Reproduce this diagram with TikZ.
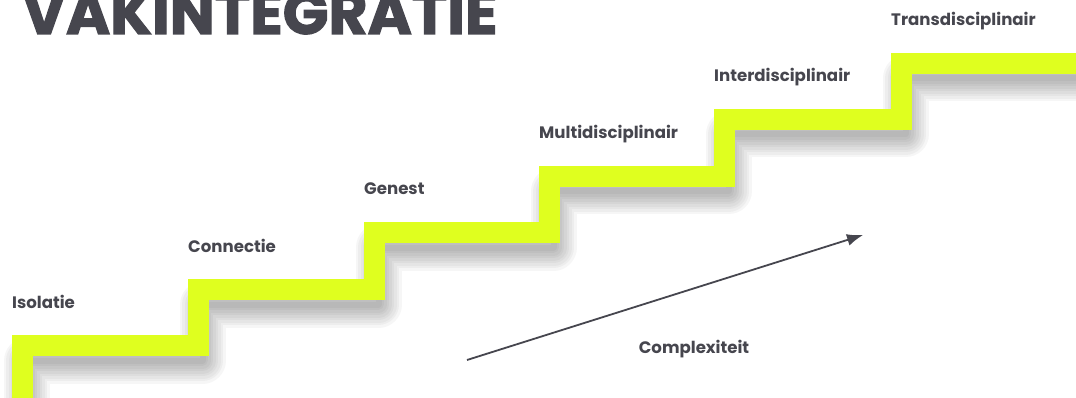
\documentclass[tikz,border=0pt]{standalone}
\usepackage{fontspec}
\setmainfont{Poppins}
\newfontfamily\titlefont{Poppins}[BoldFeatures={FakeBold=2}]
\usepackage{tikz}
\usetikzlibrary{positioning,arrows.meta}
\definecolor{lime}{HTML}{DFFF1F}
\definecolor{ink}{HTML}{46464E}

\begin{document}
\begin{tikzpicture}[x=1pt,y=-1pt,
            stairs/.style={draw=lime, line width=21pt, line join=miter},
            stairshadow/.style={draw=black, opacity=0.035, line join=round},
            steplabel/.style={anchor=base west, inner sep=0pt, text=ink,
                font=\fontsize{16.6}{18}\selectfont\bfseries},
            growth/.style={draw=ink, line width=1.8pt, -{Latex[length=16pt,width=12pt]}}]

            \useasboundingbox (0,0) rectangle (1076,398);

            % soft shadow under the treads
            \foreach \w in {6,11,...,46}
                \draw [stairshadow, line width=\w pt, shift={(4,15)}]
                (22.5,420) -- (22.5,345.5) -- (198.5,345.5) -- (198.5,289.5)
                -- (374.5,289.5) -- (374.5,232.5) -- (549.5,232.5) -- (549.5,176.5)
                -- (724.5,176.5) -- (724.5,119.5) -- (901.5,119.5) -- (901.5,63.5)
                -- (1100,63.5);

            % the stairs
            \draw [stairs]
                (22.5,420) -- (22.5,345.5) -- (198.5,345.5) -- (198.5,289.5)
                -- (374.5,289.5) -- (374.5,232.5) -- (549.5,232.5) -- (549.5,176.5)
                -- (724.5,176.5) -- (724.5,119.5) -- (901.5,119.5) -- (901.5,63.5)
                -- (1100,63.5);

            \node [anchor=base west, inner sep=0pt, text=ink,
                font=\titlefont\fontsize{60}{60}\selectfont\bfseries] (title) at (22,34) {VAKINTEGRATIE};

            \node [steplabel] (isolatie) at (12,308) {Isolatie};
            \node [steplabel] (connectie) at (188,252) {Connectie};
            \node [steplabel] (genest) at (364,195) {Genest};
            \node [steplabel] (multi) at (539,139) {Multidisciplinair};
            \node [steplabel] (inter) at (714,82) {Interdisciplinair};
            \node [steplabel] (trans) at (891,26) {Transdisciplinair};

            \coordinate (cfrom) at (467,360);
            \coordinate (cto) at (863,235);
            \draw [growth] (cfrom) -- (cto);
            \node [steplabel, anchor=base] (complex) at (694,353) {Complexiteit};
\end{tikzpicture}
\end{document}
